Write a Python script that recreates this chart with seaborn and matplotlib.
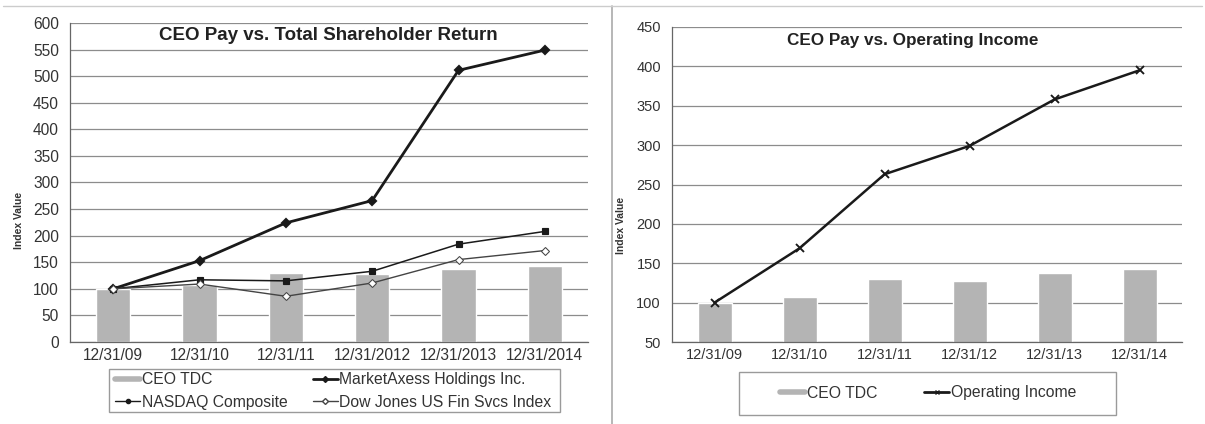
import matplotlib
matplotlib.use("Agg")
import matplotlib.pyplot as plt
import seaborn as sns
from matplotlib.lines import Line2D
from matplotlib.patches import Rectangle

sns.set_style("white")
plt.rcParams['font.family'] = ['Liberation Sans', 'DejaVu Sans']

# ---- data ----
cats_left = ["12/31/09", "12/31/10", "12/31/11", "12/31/2012", "12/31/2013", "12/31/2014"]
cats_right = ["12/31/09", "12/31/10", "12/31/11", "12/31/12", "12/31/13", "12/31/14"]
ceo_tdc = [100, 107, 130, 127, 138, 143]
marketaxess = [100, 153, 224, 266, 511, 549]
nasdaq = [100, 117, 115, 133, 184, 208]
dowjones = [100, 109, 86, 111, 155, 172]
operating_income = [100, 169, 263, 299, 358, 395]
left_ticks = list(range(0, 601, 50))
right_ticks = list(range(50, 451, 50))

BAR = "#b4b4b4"
GRID = "#8c8c8c"
TXT = "#333333"
W, H = 1205, 424

def fx(px):
    return px / W

def fy(py):
    return 1 - py / H

fig = plt.figure(figsize=(12.05, 4.24), dpi=100)
ax1 = fig.add_axes([fx(70), fy(342), (588 - 70) / W, (342 - 23) / H])
ax2 = fig.add_axes([fx(672), fy(342), (1182 - 672) / W, (342 - 27) / H])

def style(ax, ticks, n, fs):
    ax.set_ylim(ticks[0], ticks[-1])
    ax.set_yticks(ticks)
    ax.set_xlim(-0.5, n - 0.5)
    ax.set_xticks([i + 0.5 for i in range(n - 1)], minor=True)
    ax.yaxis.grid(True, color=GRID, linewidth=0.9)
    ax.xaxis.grid(False)
    ax.set_axisbelow(True)
    for s in ["top", "right"]:
        ax.spines[s].set_visible(False)
    for s in ["left", "bottom"]:
        ax.spines[s].set_color("#666666")
        ax.spines[s].set_linewidth(0.9)
    ax.tick_params(axis="both", labelsize=fs, colors=TXT, pad=4)
    ax.tick_params(axis="x", which="major", length=0)
    ax.tick_params(axis="x", which="minor", length=3, color="#888888", direction="out")
    ax.tick_params(axis="y", length=4, direction="out", color="#666666")
    ax.set_xlabel("")
    ax.set_ylabel("Index Value", fontsize=7.5, fontweight="bold", color=TXT)

# ---- left panel ----
sns.barplot(x=cats_left, y=ceo_tdc, ax=ax1, color=BAR, width=0.4, saturation=1)
sns.pointplot(x=cats_left, y=marketaxess, ax=ax1, color="#1a1a1a", markers="D",
              linewidth=2.0, markersize=4.5)
sns.pointplot(x=cats_left, y=nasdaq, ax=ax1, color="#1a1a1a", markers="s",
              linewidth=1.1, markersize=4.5)
sns.pointplot(x=cats_left, y=dowjones, ax=ax1, color="#444444", markers="D",
              linewidth=1.0, markersize=4.5, markerfacecolor="white")
style(ax1, left_ticks, len(cats_left), 11.2)
ax1.yaxis.set_label_coords(-0.088, 0.38)
fig.text(fx(328), fy(36), "CEO Pay vs. Total Shareholder Return", fontsize=13.5,
         fontweight="bold", color="#222222", ha="center", va="center")

# ---- right panel ----
sns.barplot(x=cats_right, y=ceo_tdc, ax=ax2, color=BAR, width=0.4, saturation=1)
sns.pointplot(x=cats_right, y=operating_income, ax=ax2, color="#1a1a1a", markers="x",
              linewidth=1.8, markersize=6)
style(ax2, right_ticks, len(cats_right), 10.5)
ax2.yaxis.set_label_coords(-0.09, 0.37)
fig.text(fx(913), fy(41), "CEO Pay vs. Operating Income", fontsize=12.3,
         fontweight="bold", color="#222222", ha="center", va="center")

# ---- legends ----
h_tdc = Line2D([], [], color=BAR, linewidth=4)
h_mkx = Line2D([], [], color="#1a1a1a", linewidth=2, marker="D", markersize=3)
h_nas = Line2D([], [], color="#1a1a1a", linewidth=1, marker="o", markersize=3)
h_dj = Line2D([], [], color="#444444", linewidth=1, marker="D", markersize=3,
              markerfacecolor="white")
fig.add_artist(Rectangle((fx(109), fy(412)), (560 - 109) / W, (412 - 369) / H,
                         transform=fig.transFigure, fill=False,
                         edgecolor="#9a9a9a", linewidth=1))
fig.legend([h_tdc, h_nas, h_mkx, h_dj],
           ["CEO TDC", "NASDAQ Composite", "MarketAxess Holdings Inc.",
            "Dow Jones US Fin Svcs Index"],
           ncol=2, loc="center left", bbox_to_anchor=(fx(104), fy(391)),
           fontsize=11.3, frameon=False,
           handlelength=1.6, handletextpad=0.1, columnspacing=1.6,
           labelspacing=0.5, borderpad=0.2, labelcolor=TXT)

h_oi = Line2D([], [], color="#1a1a1a", linewidth=2, marker="x", markersize=3)
fig.add_artist(Rectangle((fx(739), fy(415)), (1116 - 739) / W, (415 - 372) / H,
                         transform=fig.transFigure, fill=False,
                         edgecolor="#9a9a9a", linewidth=1))
fig.legend([h_tdc, h_oi], ["CEO TDC", "Operating Income"],
           ncol=2, loc="center", bbox_to_anchor=(fx(928), fy(393)),
           fontsize=11.3, frameon=False,
           handlelength=1.6, handletextpad=0.1, columnspacing=3.0,
           borderpad=0.2, labelcolor=TXT)

# panel frames
fig.add_artist(Line2D([fx(612), fx(612)], [0, fy(6)], color="#aaaaaa", linewidth=1.2))
fig.add_artist(Line2D([fx(3), fx(1202)], [fy(6), fy(6)], color="#cccccc", linewidth=1))

fig.savefig("out.png", dpi=100)
